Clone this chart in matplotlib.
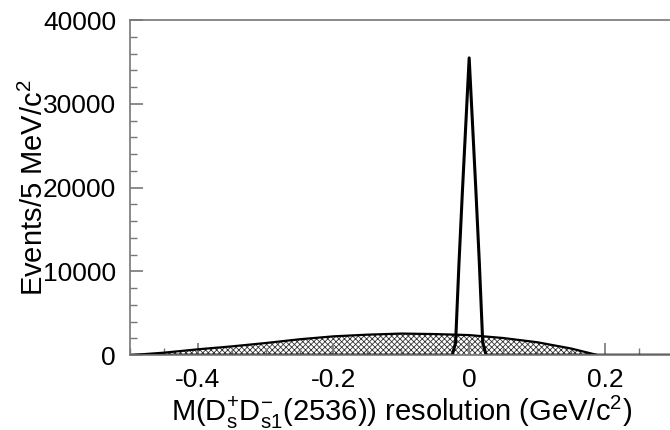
import numpy as np
import matplotlib
matplotlib.use("Agg")
import matplotlib.pyplot as plt
from matplotlib.ticker import MultipleLocator

plt.rcParams['font.family'] = ['Liberation Sans', 'DejaVu Sans']
plt.rcParams['mathtext.fontset'] = 'custom'
plt.rcParams['mathtext.rm'] = 'Liberation Sans'
plt.rcParams['mathtext.it'] = 'Liberation Sans'
plt.rcParams['hatch.linewidth'] = 0.6
plt.rcParams['hatch.color'] = '#555555'

# broad (wrong-combination) distribution
broad_x = [-0.5, -0.45, -0.4, -0.35, -0.3, -0.25, -0.2, -0.15, -0.1, -0.05,
           0.0, 0.05, 0.1, 0.15, 0.19, 0.3]
broad_y = [0, 300, 700, 1050, 1450, 1900, 2250, 2450, 2580, 2520,
           2400, 2050, 1550, 800, 0, 0]

# narrow signal peak (5 MeV bins)
peak_x = [-0.5, -0.025, -0.02, -0.015, -0.01, -0.005, 0.0, 0.005, 0.01,
          0.015, 0.02, 0.025, 0.3]
peak_y = [0, 0, 1500, 11000, 19500, 27500, 35500, 27500, 19500,
          11000, 1500, 0, 0]

fig = plt.figure(figsize=(6.7, 4.3), dpi=100)
ax = fig.add_axes([0.194, 0.174, 0.81, 0.779])

ax.fill_between(broad_x, broad_y, 0, facecolor='white', edgecolor='#333333',
                hatch='xxxxxx', linewidth=0)
ax.plot(broad_x, broad_y, color='black', lw=1.6)
ax.plot(peak_x, peak_y, color='black', lw=2.2)

ax.set_xlim(-0.5, 0.3)
ax.set_ylim(0, 40000)
ax.set_xticks([-0.4, -0.2, 0, 0.2])
ax.set_xticklabels(['-0.4', '-0.2', '0', '0.2'])
ax.xaxis.set_minor_locator(MultipleLocator(0.05))
ax.set_yticks([0, 10000, 20000, 30000, 40000])
ax.yaxis.set_minor_locator(MultipleLocator(2000))

for s in ax.spines.values():
    s.set_color('#777777')
    s.set_linewidth(1.2)
ax.tick_params(which='both', direction='in', color='#777777', labelsize=19,
               top=False, right=False)
ax.tick_params(which='major', length=9, width=1.2)
ax.tick_params(which='minor', length=5, width=1.0)
ax.tick_params(axis='x', pad=9)
ax.tick_params(axis='y', pad=10)

ax.set_ylabel(r'Events/5 MeV/c$^{2}$', fontsize=21)
ax.yaxis.set_label_coords(-0.15, 0.5)
ax.set_xlabel(r'M(D$_{s}^{+}$D$_{s1}^{-}$(2536)) resolution (GeV/c$^{2}$)',
              fontsize=21)
ax.xaxis.set_label_coords(0.5, -0.115)

fig.savefig('out.png', dpi=100)
